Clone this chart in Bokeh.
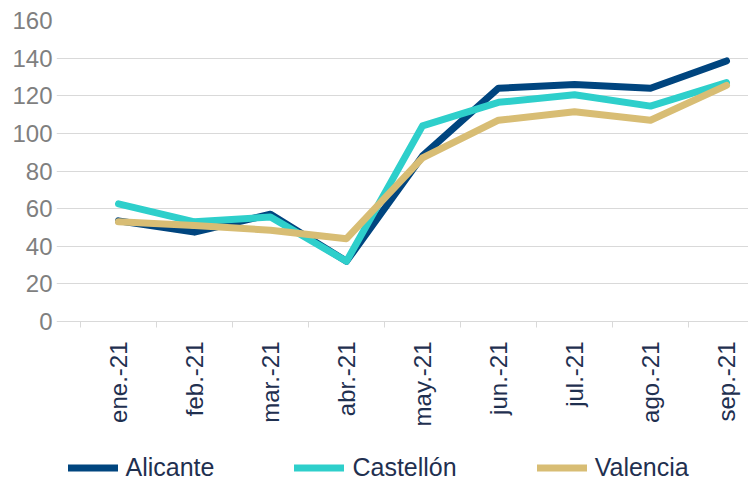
import numpy as np
from bokeh.plotting import figure
from bokeh.models import ColumnDataSource, FixedTicker, Range1d, Legend, LegendItem
from bokeh.core.properties import value
from bokeh.embed import file_html
from bokeh.resources import INLINE

months = ["ene.-21", "feb.-21", "mar.-21", "abr.-21", "may.-21",
          "jun.-21", "jul.-21", "ago.-21", "sep.-21"]
alicante = [53.5, 47.5, 57, 32, 88, 124, 126, 124, 138.5]
castellon = [62.5, 53, 55.5, 32, 104, 116.5, 120.5, 114.5, 127]
valencia = [53, 51, 48.5, 44, 87, 107, 111.5, 107, 125.5]
y_ticks = [0, 20, 40, 60, 80, 100, 120, 140, 160]

series_names = ["Alicante", "Castellón", "Valencia"]
colors = ["#00457F", "#2ECFCB", "#D8BD74"]

n = len(months)
centers = [i + 0.5 for i in range(n)]
bounds = [i for i in range(n + 1)]

# layout constants (pixels)
W, H = 748, 482
FRAME_LEFT = 56          # frame starts here so the legend fits inside it
CAT_LEFT = 80            # left edge of the category area
CAT_W = 76               # width of one category
Y0_PX, Y160_PX = 321, 20 # pixel rows of 0 and 160
px_per_unit = (Y0_PX - Y160_PX) / 160.0

x_start = -(CAT_LEFT - FRAME_LEFT) / CAT_W
x_end = (W - CAT_LEFT) / CAT_W
y_start = -(H - Y0_PX) / px_per_unit

src = ColumnDataSource(dict(x=centers, a=alicante, c=castellon, v=valencia))
lab_src = ColumnDataSource(dict(x=centers, y=[0] * n, t=months))
tick_src = ColumnDataSource(dict(x=bounds, y=[0] * len(bounds)))

FONT = "Liberation Sans"
TXT = "#1F3050"

p = figure(width=W, height=H, output_backend="svg", toolbar_location=None,
           x_range=Range1d(x_start, x_end), y_range=Range1d(y_start, 160),
           min_border_left=FRAME_LEFT, min_border_right=0, min_border_top=Y160_PX,
           min_border_bottom=0)
p.outline_line_color = None
p.background_fill_color = "white"
p.border_fill_color = "white"
p.xaxis.visible = False
p.xgrid.grid_line_color = None

# y axis
p.yaxis.ticker = FixedTicker(ticks=y_ticks)
p.yaxis.axis_line_color = None
p.yaxis.major_tick_line_color = None
p.yaxis.minor_tick_line_color = None
p.yaxis.major_label_text_color = "#7F7F7F"
p.yaxis.major_label_text_font = FONT
p.yaxis.major_label_text_font_size = "24px"
p.yaxis.major_label_standoff = -2

p.ygrid.ticker = FixedTicker(ticks=y_ticks)
p.ygrid.grid_line_color = "#D9D9D9"
p.ygrid.grid_line_width = 1
p.ygrid.bounds = (0, x_end)

# category tick marks and labels on the zero line
p.ray(x="x", y="y", source=tick_src, length=6, length_units="screen",
      angle=-np.pi / 2, line_color="#D9D9D9", line_width=1)
p.text(x="x", y="y", text="t", source=lab_src, angle=np.pi / 2,
       text_align="right", text_baseline="middle", y_offset=20,
       text_font=value(FONT), text_font_size="24px", text_color=TXT)

renderers = []
for col, color in zip(["a", "c", "v"], colors):
    r = p.line("x", col, source=src, line_color=color, line_width=7,
               line_cap="round", line_join="round")
    renderers.append(r)

legend = Legend(items=[LegendItem(label=nm, renderers=[r]) for nm, r in zip(series_names, renderers)],
                orientation="horizontal", location=(11.5, 0),
                glyph_width=50, glyph_height=25, label_standoff=8, spacing=80,
                padding=0, margin=0, border_line_color=None,
                background_fill_alpha=0,
                label_text_font=FONT, label_text_font_size="25px",
                label_text_color=TXT, label_height=25)
p.add_layout(legend, "center")

open("out.html", "w").write(file_html(p, INLINE))
